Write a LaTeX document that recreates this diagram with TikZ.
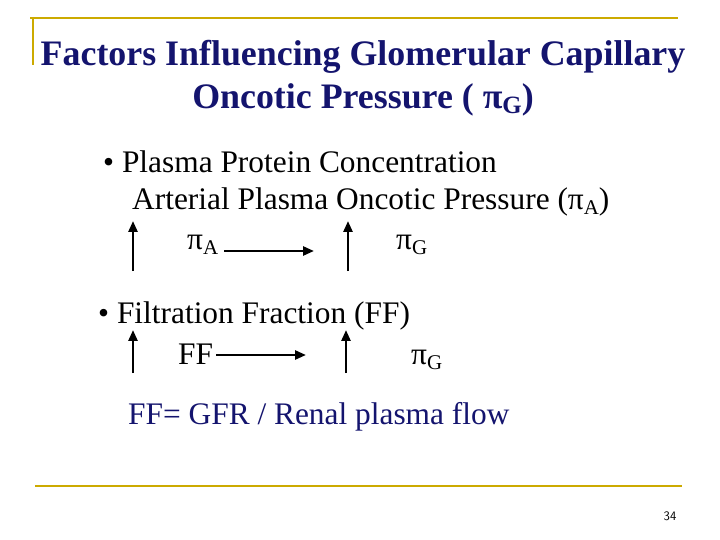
\documentclass[tikz,border=0pt]{standalone}
\usepackage{fontspec}
\setmainfont{Liberation Serif}
\usetikzlibrary{positioning,arrows.meta}
\definecolor{gold}{RGB}{204,170,0}
\definecolor{navy}{RGB}{20,20,110}
\newcommand{\sub}[1]{\raisebox{-0.35ex}{\fontsize{21}{21}\selectfont #1}}
\newcommand{\tsub}[1]{\raisebox{-0.35ex}{\fontsize{25}{25}\selectfont #1}}
\begin{document}
\begin{tikzpicture}[x=1bp,y=-1bp,
    rule/.style={draw=gold, line width=2.5pt},
    title/.style={font=\fontsize{36}{43}\selectfont\bfseries, text=navy, align=center},
    body/.style={anchor=west, font=\fontsize{31.5}{36}\selectfont, text=black, inner sep=0pt},
    uparrow/.style={-{Triangle[length=11pt,width=9pt]}, line width=2.5pt},
    rightarrow/.style={-{Triangle[length=11pt,width=9pt]}, line width=2.5pt},
]
\useasboundingbox (0,0) rectangle (720,540);
% frame rules
\draw[rule] (30,18) -- (678,18);
\draw[rule] (33,17) -- (33,65);
\draw[rule] (35,486) -- (682,486);
% title
\node[title] (head) at (363,78) {Factors Influencing Glomerular Capillary\\Oncotic Pressure ( π\tsub{G})};
% first bullet
\node[body] (plasma) at (103,162) {• Plasma Protein Concentration};
\node[body] (arterial) at (132,202) {Arterial Plasma Oncotic Pressure (π\sub{A})};
\node[body] (piA) at (187,245) {π\sub{A}};
\node[body] (piG1) at (396,245) {π\sub{G}};
\coordinate (a1b) at (133,271); \coordinate (a1t) at (133,221);
\coordinate (a2b) at (348,271); \coordinate (a2t) at (348,221);
\coordinate (r1s) at (224,251); \coordinate (r1e) at (314,251);
\draw[uparrow] (a1b) -- (a1t);
\draw[uparrow] (a2b) -- (a2t);
\draw[rightarrow] (r1s) -- (r1e);
% second bullet
\node[body] (filt) at (98,316) {• Filtration Fraction (FF)};
\node[body] (ff) at (178,354) {FF};
\node[body] (piG2) at (411,360) {π\sub{G}};
\coordinate (b1b) at (133,373); \coordinate (b1t) at (133,330);
\coordinate (b2b) at (346,373); \coordinate (b2t) at (346,330);
\coordinate (r2s) at (216,355); \coordinate (r2e) at (306,355);
\draw[uparrow] (b1b) -- (b1t);
\draw[uparrow] (b2b) -- (b2t);
\draw[rightarrow] (r2s) -- (r2e);
% formula
\node[body, text=navy] (formula) at (128,417) {FF= GFR / Renal plasma flow};
% page number
\node[font=\fontsize{13}{15}\selectfont\sffamily] (page) at (670,516) {34};
\end{tikzpicture}
\end{document}
